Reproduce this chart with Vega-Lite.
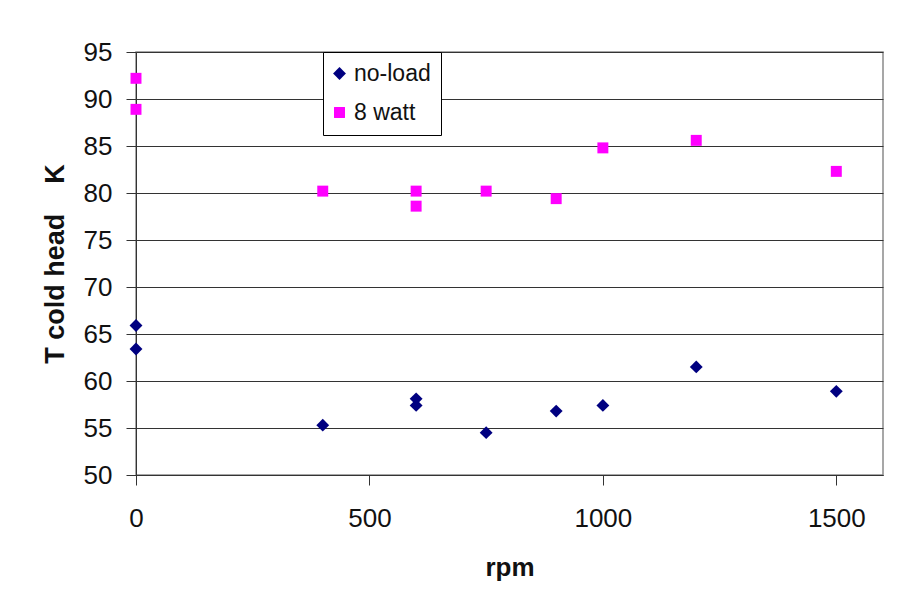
{
  "$schema": "https://vega.github.io/schema/vega-lite/v6.json",
  "width": 747,
  "height": 423,
  "autosize": {"type": "none"},
  "padding": {"left": 136, "top": 52, "right": 37, "bottom": 117},
  "background": "white",
  "config": {
    "font": "Liberation Sans",
    "view": {"stroke": "#8a8a8a", "strokeWidth": 1.5, "fill": "white"}
  },
  "data": {
    "values": [
      {"rpm": 0, "T": 65.9, "series": "no-load"},
      {"rpm": 0, "T": 63.4, "series": "no-load"},
      {"rpm": 400, "T": 55.3, "series": "no-load"},
      {"rpm": 600, "T": 58.1, "series": "no-load"},
      {"rpm": 600, "T": 57.4, "series": "no-load"},
      {"rpm": 750, "T": 54.5, "series": "no-load"},
      {"rpm": 900, "T": 56.8, "series": "no-load"},
      {"rpm": 1000, "T": 57.4, "series": "no-load"},
      {"rpm": 1200, "T": 61.5, "series": "no-load"},
      {"rpm": 1500, "T": 58.9, "series": "no-load"},
      {"rpm": 0, "T": 92.2, "series": "8 watt"},
      {"rpm": 0, "T": 88.9, "series": "8 watt"},
      {"rpm": 400, "T": 80.2, "series": "8 watt"},
      {"rpm": 600, "T": 80.2, "series": "8 watt"},
      {"rpm": 600, "T": 78.6, "series": "8 watt"},
      {"rpm": 750, "T": 80.2, "series": "8 watt"},
      {"rpm": 900, "T": 79.4, "series": "8 watt"},
      {"rpm": 1000, "T": 84.8, "series": "8 watt"},
      {"rpm": 1200, "T": 85.6, "series": "8 watt"},
      {"rpm": 1500, "T": 82.3, "series": "8 watt"}
    ]
  },
  "mark": {"type": "point", "filled": true, "opacity": 1},
  "encoding": {
    "x": {
      "field": "rpm",
      "type": "quantitative",
      "scale": {"domain": [0, 1600], "nice": false, "zero": false},
      "axis": {
        "title": "rpm",
        "values": [0, 500, 1000, 1500],
        "format": "d",
        "labelFlush": false,
        "grid": false,
        "domainColor": "#333",
        "tickColor": "#333",
        "tickSize": 10,
        "labelFontSize": 26,
        "labelColor": "#111",
        "labelPadding": 20,
        "titleFontSize": 26,
        "titleFontWeight": "bold",
        "titleColor": "#111",
        "titlePadding": 23
      }
    },
    "y": {
      "field": "T",
      "type": "quantitative",
      "scale": {"domain": [50, 95], "nice": false, "zero": false},
      "axis": {
        "title": "T cold head\u00a0\u00a0\u00a0\u00a0K",
        "values": [50, 55, 60, 65, 70, 75, 80, 85, 90, 95],
        "labelFlush": false,
        "grid": true,
        "gridColor": "#333",
        "gridWidth": 1,
        "domainColor": "#333",
        "tickColor": "#333",
        "tickSize": 10,
        "labelFontSize": 26,
        "labelColor": "#111",
        "labelPadding": 14,
        "titleFontSize": 27,
        "titleFontWeight": "bold",
        "titleColor": "#111",
        "titlePadding": 14
      }
    },
    "size": {
      "field": "series",
      "type": "nominal",
      "scale": {"domain": ["no-load", "8 watt"], "range": [165, 120]},
      "legend": null
    },
    "color": {
      "field": "series",
      "type": "nominal",
      "scale": {"domain": ["no-load", "8 watt"], "range": ["#000080", "#FF00FF"]},
      "legend": {
        "title": null,
        "orient": "none",
        "legendX": 187,
        "legendY": 0,
        "strokeColor": "#000",
        "fillColor": "white",
        "padding": 10,
        "cornerRadius": 0,
        "labelFontSize": 23,
        "labelColor": "#111",
        "labelOffset": 3,
        "symbolOffset": -5,
        "rowPadding": 15,
        "symbolSize": 140,
        "symbolStrokeWidth": 0
      }
    },
    "shape": {
      "field": "series",
      "type": "nominal",
      "scale": {"domain": ["no-load", "8 watt"], "range": ["diamond", "square"]}
    }
  }
}
